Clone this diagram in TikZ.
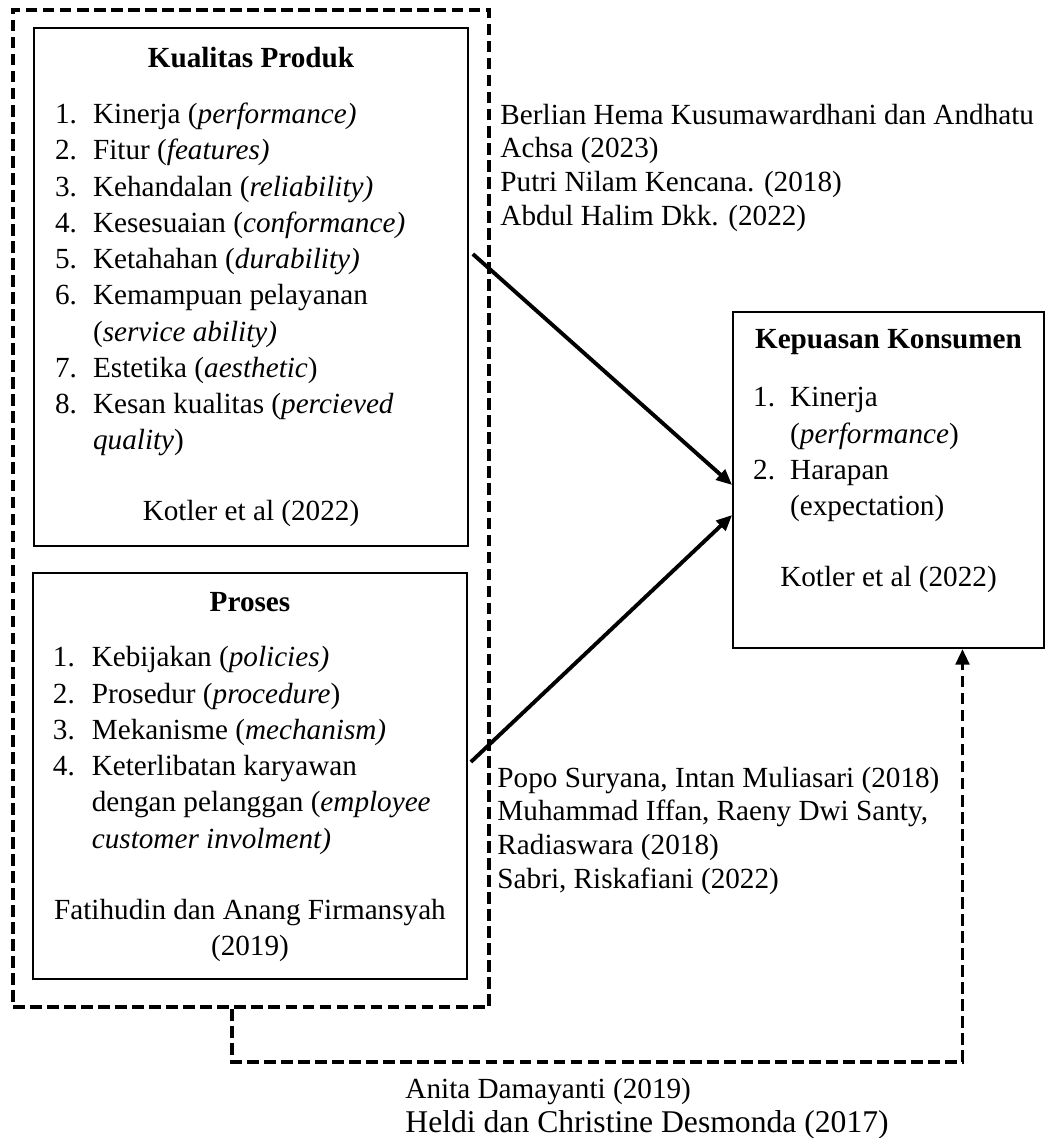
\documentclass[tikz,border=0pt]{standalone}
\usepackage{fontspec}
\setmainfont{Liberation Serif}
\usepackage{array}
\usetikzlibrary{arrows.meta,calc,positioning}
\newcommand{\pxu}{0.411pt}
\tikzset{
  varBox/.style={draw, line width=0.7pt, inner sep=0pt, font=\fontsize{12}{14.9}\selectfont},
  groupBox/.style={draw, line width=1.6pt, dash pattern=on 4.8pt off 2.2pt, inner sep=0pt},
  refText/.style={anchor=base west, inner sep=0pt, align=left, font=\fontsize{12}{13.8}\selectfont},
  varArrow/.style={-{Triangle[length=6.5pt,width=5.5pt]}, line width=1.6pt},
  varDashedArrow/.style={-{Triangle[length=6.5pt,width=5.5pt]}, line width=1.6pt, dash pattern=on 4.8pt off 2.2pt}
}

\begin{document}
\begin{tikzpicture}[x=\pxu, y=-\pxu]
  \useasboundingbox (0,0) rectangle (1046,1138);
  \node[groupBox, minimum width=476*\pxu, minimum height=997*\pxu] (group) at (251,508.5) {};
  \node[varBox, minimum width=434*\pxu, minimum height=518*\pxu] (kualitas) at (251,287) {%
    \begin{tabular}{@{}p{15.6pt}@{}p{145.4pt}@{}}
      \multicolumn{2}{@{}c@{}}{\textbf{Kualitas Produk}}\\[8.1pt]
      1. & Kinerja (\textit{performance)}\\
      2. & Fitur (\textit{features)}\\
      3. & Kehandalan (\textit{reliability)}\\
      4. & Kesesuaian (\textit{conformance)}\\
      5. & Ketahahan (\textit{durability)}\\
      6. & Kemampuan pelayanan\\
         & (\textit{service ability)}\\
      7. & Estetika (\textit{aesthetic})\\
      8. & Kesan kualitas (\textit{percieved}\\
         & \textit{quality})\\[14.3pt]
      \multicolumn{2}{@{}c@{}}{Kotler et al (2022)}
    \end{tabular}};
  \node[varBox, minimum width=434*\pxu, minimum height=406*\pxu] (proses) at (250,776) {%
    \begin{tabular}{@{}p{16pt}@{}p{146pt}@{}}
      \multicolumn{2}{@{}c@{}}{\textbf{Proses}}\\[8.1pt]
      1. & Kebijakan (\textit{policies)}\\
      2. & Prosedur (\textit{procedure})\\
      3. & Mekanisme (\textit{mechanism)}\\
      4. & Keterlibatan karyawan\\
         & dengan pelanggan (\textit{employee}\\
         & \textit{customer involment)}\\[14.3pt]
      \multicolumn{2}{@{}c@{}}{Fatihudin dan Anang Firmansyah}\\
      \multicolumn{2}{@{}c@{}}{(2019)}
    \end{tabular}};
  \node[varBox, minimum width=311*\pxu, minimum height=336*\pxu] (kepuasan) at (888.5,480) {%
    \begin{tabular}{@{}p{15.2pt}@{}p{96pt}@{}}
      \multicolumn{2}{@{}c@{}}{\textbf{Kepuasan Konsumen}}\\[9pt]
      1. & Kinerja\\
         & (\textit{performance})\\
      2. & Harapan\\
         & (expectation)\\[14.3pt]
      \multicolumn{2}{@{}c@{}}{Kotler et al (2022)}\\[16pt]
    \end{tabular}};
  \node[refText] (refKualitas) at (500,225) {Berlian Hema Kusumawardhani dan Andhatu\\Achsa (2023)\\Putri Nilam Kencana. (2018)\\Abdul Halim Dkk. (2022)};
  \node[refText] (refProses) at (497,888) {Popo Suryana, Intan Muliasari (2018)\\Muhammad Iffan, Raeny Dwi Santy,\\Radiaswara (2018)\\Sabri, Riskafiani (2022)};
  \node[refText] (refGroup) at (405,1132) {Anita Damayanti (2019)\\\fontsize{13}{15.2}\selectfont Heldi dan Christine Desmonda (2017)};
  \draw[varArrow] ($(kualitas.east)+(4,-33)$) -- ($(kepuasan.west)+(0,5)$);
  \draw[varArrow] ($(proses.east)+(3,-14)$) -- ($(kepuasan.west)+(0,35)$);
  \draw[varDashedArrow] ($(group.south)+(-19,0)$) -- ++(0,53) -| ($(kepuasan.south)+(74,0)$);
\end{tikzpicture}
\end{document}
